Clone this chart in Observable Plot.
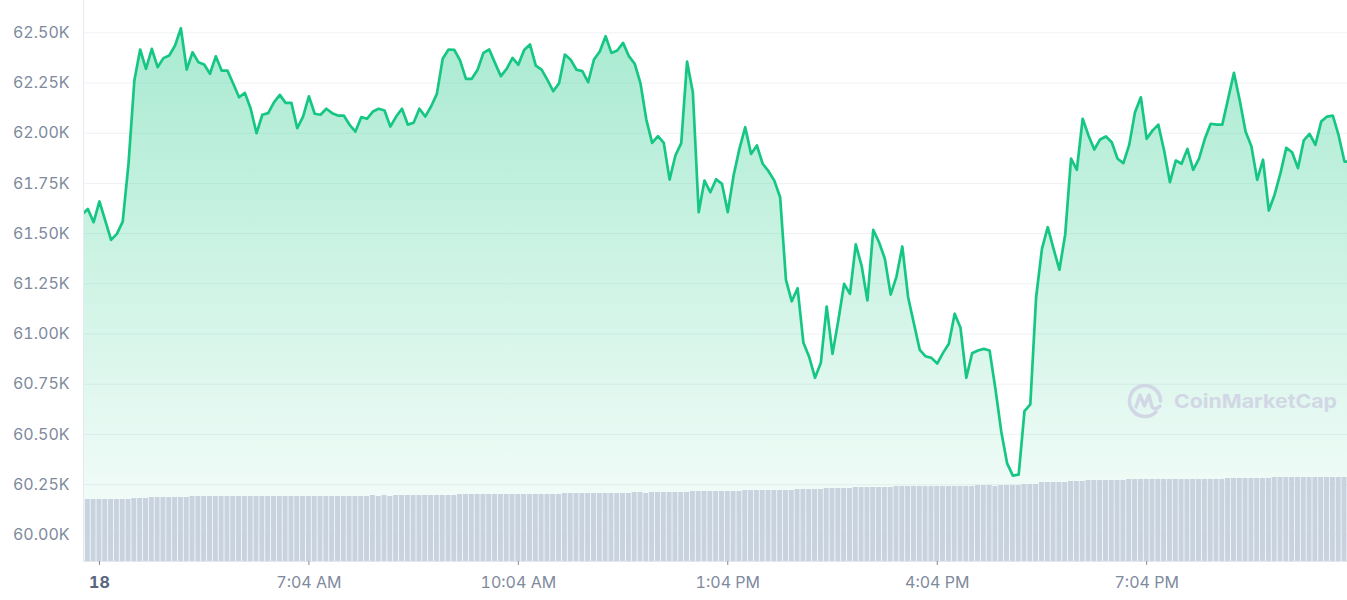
<!DOCTYPE html>
<html>
<head>
<meta charset="utf-8">
<script src="https://cdn.jsdelivr.net/npm/d3@7"></script>
<script src="https://cdn.jsdelivr.net/npm/@observablehq/plot@0.6"></script>
<style>
  html, body { margin: 0; padding: 0; background: #fff; overflow: hidden; }
</style>
</head>
<body>
<div id="chart"></div>
<script>
// ---- data (5-minute steps) ----
const stepMinutes = 5;

const prices = [
  61595,
  61623, 61557, 61660, 61565, 61469, 61499, 61560, 61849, 62262, 62417,
  62321, 62420, 62329, 62374, 62387, 62437, 62523, 62317, 62403, 62354,
  62342, 62296, 62383, 62312, 62312, 62246, 62179, 62201, 62122, 62000,
  62092, 62100, 62154, 62191, 62151, 62151, 62025, 62083, 62184, 62097,
  62092, 62122, 62100, 62088, 62088, 62042, 62008, 62080, 62072, 62108,
  62122, 62113, 62033, 62083, 62122, 62043, 62052, 62122, 62083, 62133,
  62196, 62371, 62417, 62415, 62362, 62271, 62271, 62316, 62400, 62417,
  62349, 62284, 62321, 62375, 62341, 62415, 62442, 62337, 62317, 62266,
  62209, 62249, 62392, 62366, 62316, 62309, 62254, 62367, 62407, 62483,
  62400, 62412, 62450, 62384, 62346, 62248, 62068, 61952, 61985, 61952,
  61769, 61889, 61951, 62357, 62203, 61607, 61764, 61706, 61771, 61748,
  61607, 61789, 61922, 62030, 61897, 61939, 61848, 61811, 61764, 61681,
  61270, 61163, 61228, 60956, 60885, 60782, 60857, 61137, 60901, 61067,
  61250, 61200, 61446, 61341, 61167, 61519, 61457, 61375, 61196, 61286,
  61436, 61183, 61051, 60921, 60889, 60881, 60853, 60906, 60951, 61101,
  61031, 60782, 60904, 60918, 60926, 60918, 60727, 60516, 60357, 60295,
  60300, 60616, 60649, 61183, 61424, 61532, 61424, 61320, 61496, 61873,
  61818, 62072, 61989, 61919, 61969, 61984, 61955, 61873, 61851, 61942,
  62105, 62179, 61972, 62013, 62043, 61914, 61756, 61864, 61848, 61922,
  61818, 61873, 61972, 62047, 62043, 62043, 62171, 62301, 62163, 62008,
  61935, 61768, 61868, 61615, 61695, 61801, 61927, 61905, 61826, 61964,
  61997, 61942, 62058, 62083, 62088, 61989, 61859, 61859
];

// 24h volume (billions USD), one per price point
const volumes = [
  31, 31, 31, 31, 31, 31, 31, 31, 31,
  31.5, 31.5, 31.5,
  32, 32, 32, 32, 32, 32, 32,
  32.5, 32.5, 32.5, 32.5, 32.5, 32.5, 32.5, 32.5, 32.5, 32.5,
  32.5, 32.5, 32.5, 32.5, 32.5, 32.5, 32.5, 32.5, 32.5, 32.5,
  32.5, 32.5, 32.5, 32.5, 32.5, 32.5, 32.5, 32.5, 32.5, 32.5, 32.5,
  33, 32.5, 33, 32.5,
  33, 33, 33, 33, 33, 33, 33, 33, 33, 33, 33,
  33.5, 33.5, 33.5, 33.5, 33.5, 33.5, 33.5, 33.5, 33.5, 33.5,
  33.5, 33.5, 33.5, 33.5, 33.5, 33.5, 33.5, 33.5,
  34, 34, 34, 34, 34, 34, 34, 34, 34, 34, 34, 34,
  34.5, 34.5,
  34,
  34.5, 34.5, 34.5, 34.5, 34.5, 34.5, 34.5,
  35, 35, 35, 35, 35, 35, 35, 35, 35,
  35.5, 35.5, 35.5, 35.5, 35.5, 35.5, 35.5, 35.5, 35.5,
  36, 36, 36, 36, 36,
  36.5, 36.5, 36.5, 36.5, 36.5,
  37, 37, 37, 37, 37, 37, 37,
  37.5, 37.5, 37.5, 37.5, 37.5, 37.5, 37.5, 37.5, 37.5, 37.5, 37.5, 37.5, 37.5, 37.5,
  38, 38, 38,
  37.5,
  38, 38, 38, 38,
  38.5, 38.5, 38.5,
  39.5, 39.5, 39.5, 39.5, 39.5,
  40, 40, 40,
  40.5, 40.5, 40.5, 40.5, 40.5, 40.5, 40.5,
  41, 41, 41, 41, 41, 41, 41, 41, 41, 41, 41, 41, 41, 41, 41, 41, 41,
  41.5, 41.5, 41.5, 41.5, 41.5, 41.5, 41.5, 41.5,
  42, 42, 42, 42, 42, 42, 42, 42, 42, 42, 42, 42, 42, 42
];

const tickMinutes = [15, 195, 375, 555, 735, 915];
const tickLabels = ["18", "7:04 AM", "10:04 AM", "1:04 PM", "4:04 PM", "7:04 PM"];
const yTicks = [60000, 60250, 60500, 60750, 61000, 61250, 61500, 61750, 62000, 62250, 62500];

const xDomain = [1.3, 1087.6];
const yDomain = [59867, 62661];
const volMax = 280.5; // volume value that would fill the whole plot height

// ---- build table ----
const data = prices.map((p, i) => ({ t: i * stepMinutes, p, v: volumes[i], base: yDomain[0] }));
const volToPrice = v => yDomain[0] + (v / volMax) * (yDomain[1] - yDomain[0]);

const gray = "#808a9d";

const gradientDefs = () => {
  const defs = d3.create("svg:defs");
  const g = defs.append("linearGradient")
    .attr("id", "areaGrad")
    .attr("gradientUnits", "userSpaceOnUse")
    .attr("x1", 0).attr("x2", 0).attr("y1", 27).attr("y2", 561);
  g.append("stop").attr("offset", 0).attr("stop-color", "#16c784").attr("stop-opacity", 0.37);
  g.append("stop").attr("offset", 1).attr("stop-color", "#16c784").attr("stop-opacity", 0.02);
  return defs.node();
};

const watermark = (index, scales, values, dims) => {
  const g = d3.create("svg:g").attr("fill", "none");
  const cx = dims.width - 202, cy = 401, r = 15.5;
  const c = "#d2d7e5";
  const a0 = 45 * Math.PI / 180, a1 = 0;
  g.append("path")
    .attr("d", `M${cx + r * Math.cos(a0)},${cy + r * Math.sin(a0)} A${r},${r} 0 1 1 ${cx + r * Math.cos(a1)},${cy + r * Math.sin(a1)}`)
    .attr("stroke", c).attr("stroke-width", 3.6).attr("stroke-linecap", "round");
  g.append("path")
    .attr("d", `M${cx - 9},${cy + 6} L${cx - 5},${cy - 6} L${cx - 0.5},${cy + 5} L${cx + 4},${cy - 6} L${cx + 7},${cy + 6} Q${cx + 10},${cy + 10} ${cx + 15},${cy + 5}`)
    .attr("stroke", c).attr("stroke-width", 3.4).attr("stroke-linejoin", "round").attr("stroke-linecap", "round");
  g.append("text")
    .attr("x", cx + 29).attr("y", cy + 6.5)
    .attr("fill", c)
    .attr("text-anchor", "start")
    .attr("font-family", "Inter, sans-serif")
    .attr("font-weight", 700)
    .attr("font-size", 19)
    .attr("textLength", 163)
    .attr("lengthAdjust", "spacingAndGlyphs")
    .text("CoinMarketCap");
  return g.node();
};

const chart = Plot.plot({
  width: 1347,
  height: 600,
  marginLeft: 83,
  marginRight: 0,
  marginTop: 0,
  marginBottom: 39,
  style: { fontFamily: "Inter, sans-serif", background: "#fff", color: gray, overflow: "visible" },
  x: { type: "linear", domain: xDomain },
  y: { domain: yDomain },
  marks: [
    gradientDefs,
    Plot.gridY(yTicks, { stroke: "#eff2f5", strokeOpacity: 1 }),
    Plot.areaY(data, { x: "t", y1: "base", y2: "p", fill: "url(#areaGrad)", clip: true }),
    Plot.rect(data, {
      x1: d => d.t - 2.15, x2: d => d.t + 2.15,
      y1: "base", y2: d => volToPrice(d.v),
      fill: "#c8d3df", clip: true
    }),
    Plot.lineY(data, { x: "t", y: "p", stroke: "#16c784", strokeWidth: 2.7, strokeLinejoin: "round", clip: true }),
    Plot.ruleX([xDomain[0]], { stroke: "#e6e9ee" }),
    Plot.ruleY([yDomain[0]], { stroke: "#e3e7ed" }),
    Plot.axisY(yTicks, {
      tickSize: 0, tickPadding: 14, fontSize: 16, fill: gray, label: null,
      tickFormat: d => (d / 1000).toFixed(2) + "K"
    }),
    Plot.axisX(tickMinutes.slice(1), {
      tickSize: 4, tickPadding: 11, fontSize: 16, fill: gray, stroke: gray, label: null,
      tickFormat: d => tickLabels[tickMinutes.indexOf(d)]
    }),
    Plot.axisX(tickMinutes.slice(0, 1), {
      tickSize: 4, tickPadding: 11, fontSize: 16, fill: "#58667e", stroke: gray, fontWeight: "bold", label: null,
      tickFormat: d => tickLabels[tickMinutes.indexOf(d)]
    }),
    watermark
  ]
});

document.getElementById("chart").appendChild(chart);
</script>
</body>
</html>
